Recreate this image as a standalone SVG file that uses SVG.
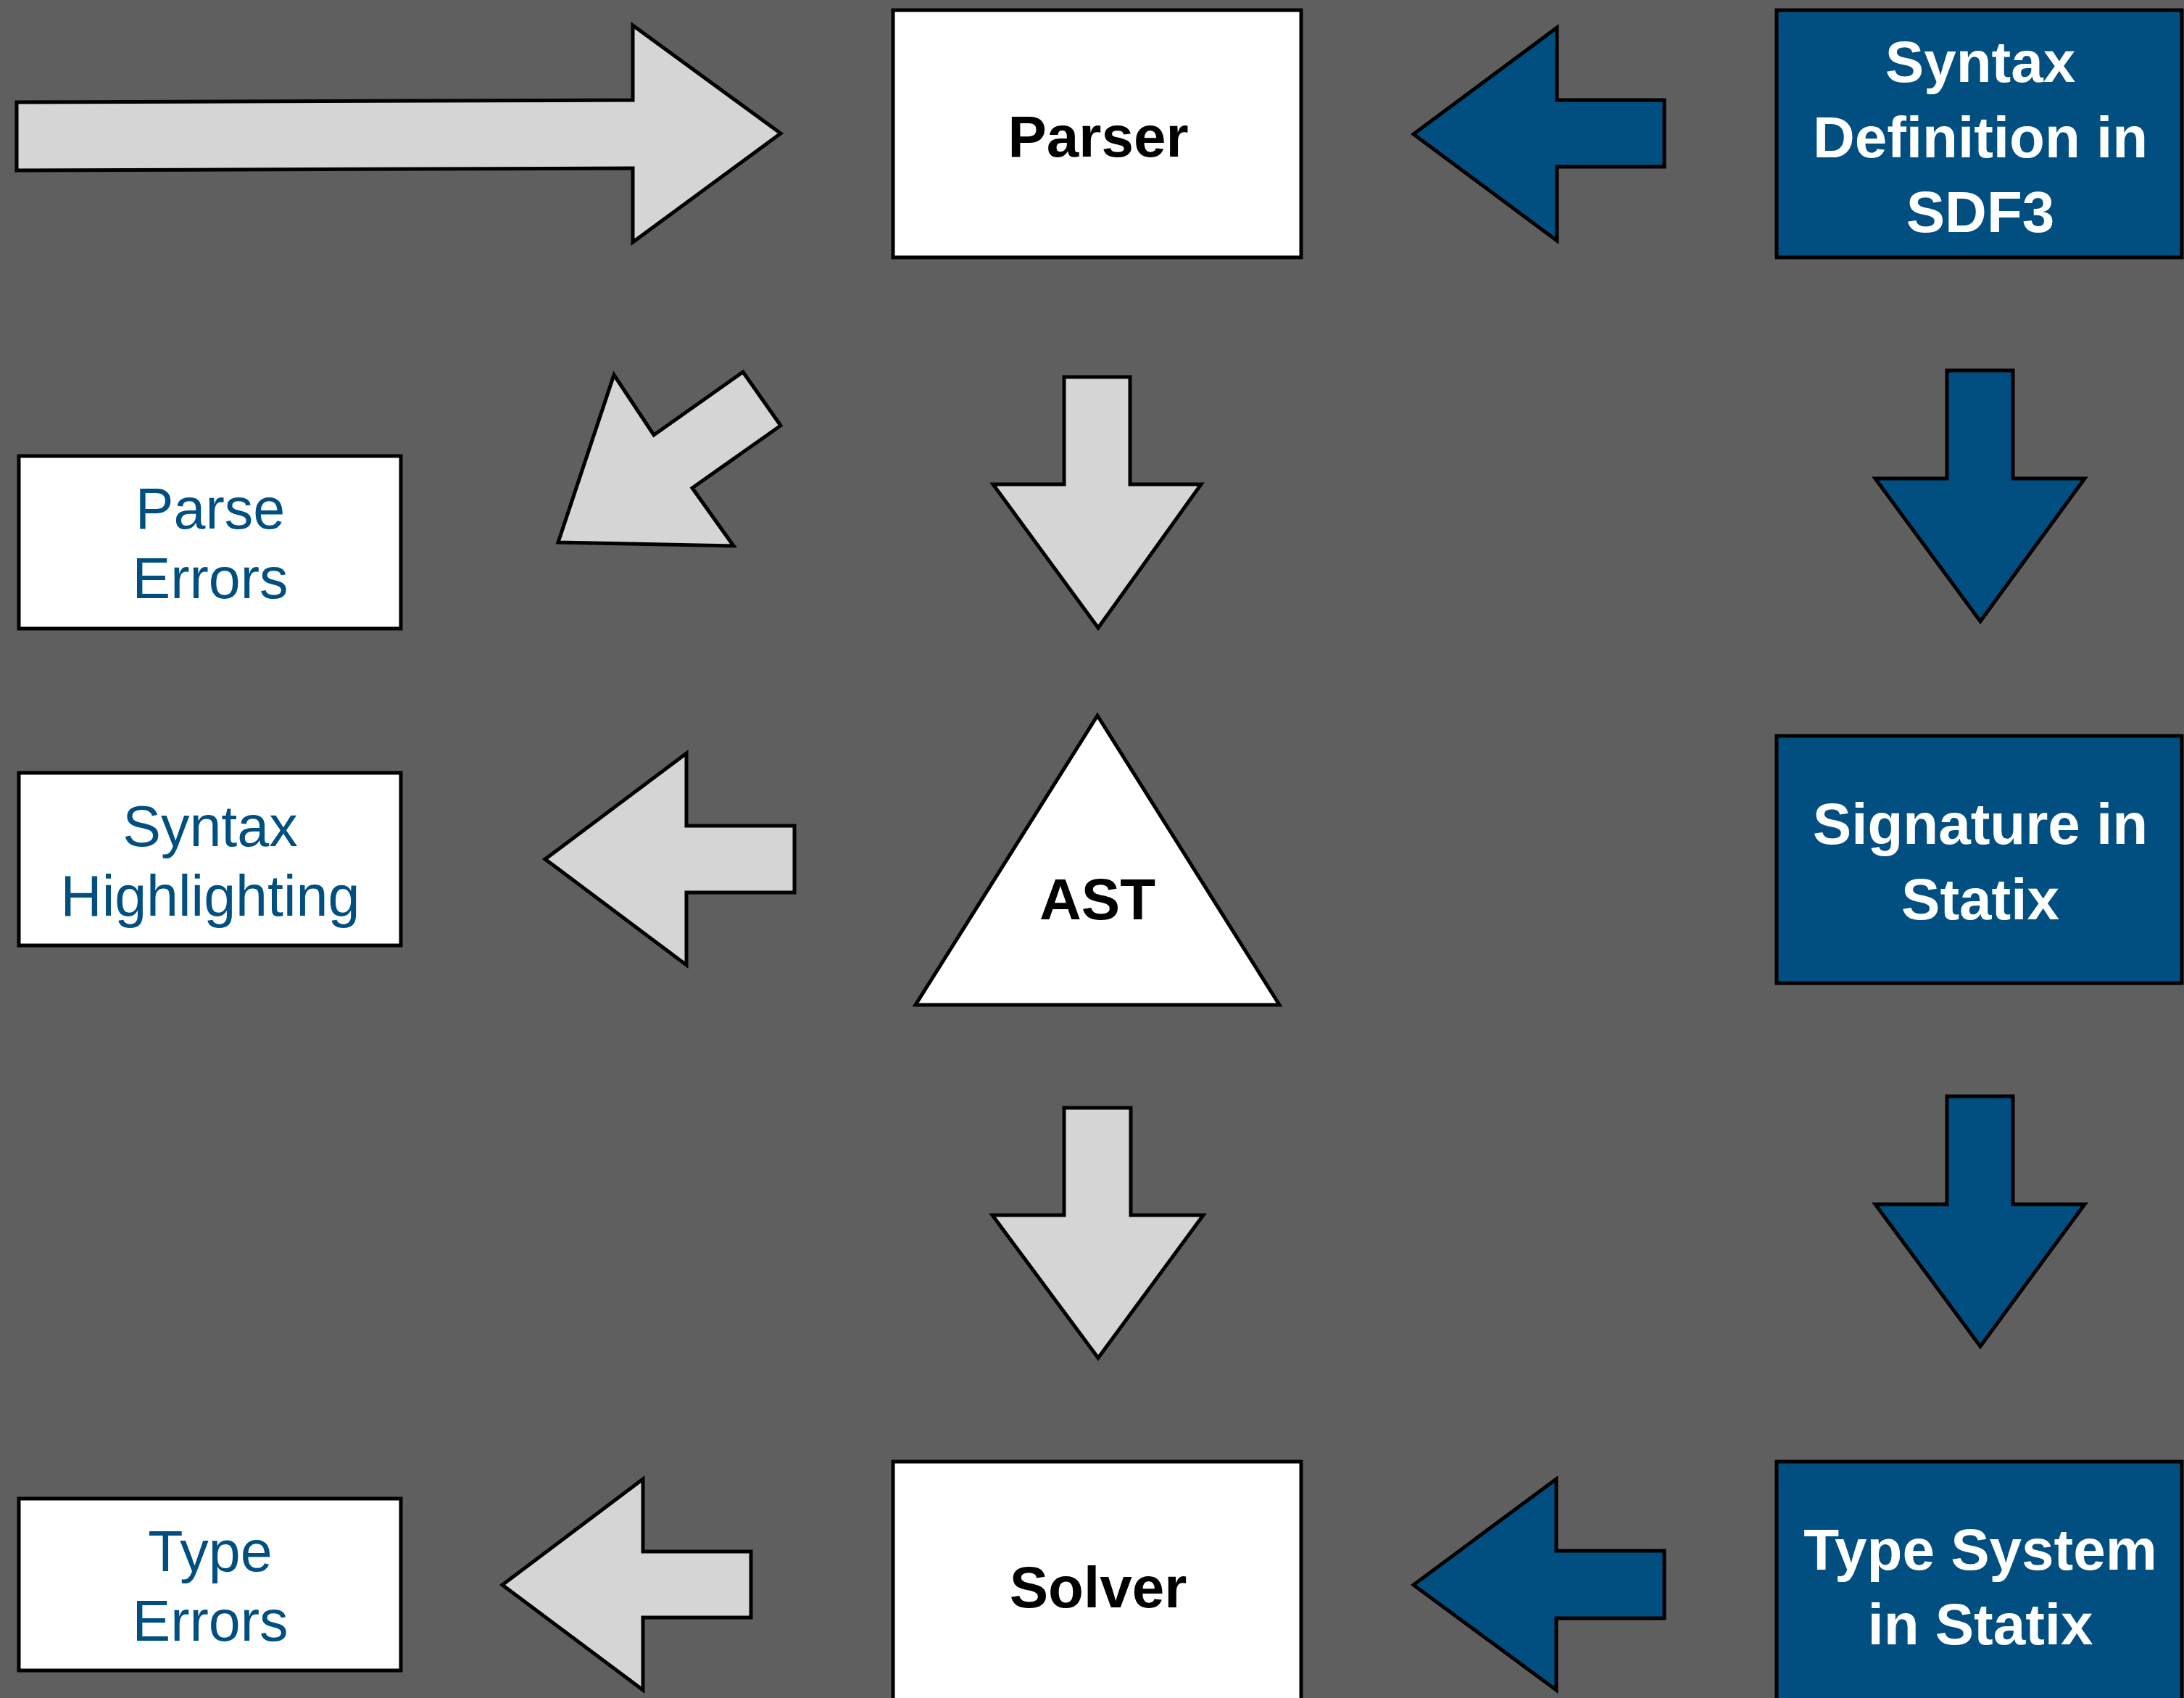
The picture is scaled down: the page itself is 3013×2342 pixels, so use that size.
<svg xmlns="http://www.w3.org/2000/svg" width="3013" height="2342" viewBox="0 0 3013 2342">
<style>
.bg{fill:#5f5f5f}
.gray{fill:#d5d5d5;stroke:#000;stroke-width:5;stroke-linejoin:miter}
.blue{fill:#004f80;stroke:#000;stroke-width:5;stroke-linejoin:miter}
.white{fill:#fff;stroke:#000;stroke-width:5}
.t{font-family:"Liberation Sans",Arial,sans-serif;text-anchor:middle}
.tb{font-weight:bold;font-size:80px;fill:#000}
.tw{font-weight:bold;font-size:80px;fill:#fff}
.tl{font-size:79px;fill:#004f80}
</style>
<rect class="bg" x="0" y="0" width="3013" height="2342"/>
<g id="connectors">
<polygon id="arrow-input" class="gray" points="23,141 873,138 873,35 1077,184 873,334 873,232 23,235"/>
<polygon id="arrow-sdf3-parser" class="blue" points="2296,138 2148,138 2148,38 1950,185 2148,332 2148,230 2296,230"/>
<polygon id="arrow-parser-errors" class="gray" points="770,748 847,517 902,600 1025,513 1077,587 955,673 1012,753"/>
<polygon id="arrow-parser-ast" class="gray" points="1468,520 1559,520 1559,668 1657,668 1515,866 1370,668 1468,668"/>
<polygon id="arrow-sdf3-signature" class="blue" points="2686,511 2777,511 2777,660 2876,660 2732,857 2587,660 2686,660"/>
<polygon id="arrow-ast-highlighting" class="gray" points="1096,1139 947,1139 947,1039 752,1185 947,1331 947,1231 1096,1231"/>
<polygon id="arrow-ast-solver" class="gray" points="1468,1528 1560,1528 1560,1676 1660,1676 1515,1873 1369,1676 1468,1676"/>
<polygon id="arrow-signature-typesystem" class="blue" points="2686,1512 2777,1512 2777,1661 2876,1661 2732,1857 2587,1661 2686,1661"/>
<polygon id="arrow-solver-typeerrors" class="gray" points="1036,2140 887,2140 887,2040 693,2186 887,2331 887,2231 1036,2231"/>
<polygon id="arrow-typesystem-solver" class="blue" points="2296,2139 2147,2139 2147,2040 1950,2186 2147,2331 2147,2232 2296,2232"/>
</g>
<g id="node-parser">
<rect class="white" x="1232" y="14" width="563" height="341"/>
<text class="t tb" x="1515" y="216">Parser</text>
</g>
<g id="node-sdf3">
<rect class="blue" x="2451" y="14" width="559" height="341"/>
<text class="t tw" x="2732" y="113">Syntax</text>
<text class="t tw" x="2732" y="217">Definition in</text>
<text class="t tw" x="2732" y="320">SDF3</text>
</g>
<g id="node-parse-errors">
<rect class="white" x="26" y="629" width="527" height="238"/>
<text class="t tl" x="290" y="729">Parse</text>
<text class="t tl" x="290" y="825">Errors</text>
</g>
<g id="node-syntax-highlighting">
<rect class="white" x="26" y="1066" width="527" height="238"/>
<text class="t tl" x="290" y="1167">Syntax</text>
<text class="t tl" x="290" y="1263">Highlighting</text>
</g>
<g id="node-ast">
<polygon class="white" points="1514,987 1765,1386 1263,1386"/>
<text class="t tb" x="1514" y="1268">AST</text>
</g>
<g id="node-signature">
<rect class="blue" x="2451" y="1015" width="559" height="341"/>
<text class="t tw" x="2732" y="1164">Signature in</text>
<text class="t tw" x="2732" y="1268">Statix</text>
</g>
<g id="node-type-errors">
<rect class="white" x="26" y="2067" width="527" height="237"/>
<text class="t tl" x="290" y="2167">Type</text>
<text class="t tl" x="290" y="2263">Errors</text>
</g>
<g id="node-solver">
<rect class="white" x="1232" y="2016" width="563" height="341"/>
<text class="t tb" x="1515" y="2217">Solver</text>
</g>
<g id="node-type-system">
<rect class="blue" x="2451" y="2016" width="559" height="341"/>
<text class="t tw" x="2732" y="2165">Type System</text>
<text class="t tw" x="2732" y="2268">in Statix</text>
</g>
</svg>
